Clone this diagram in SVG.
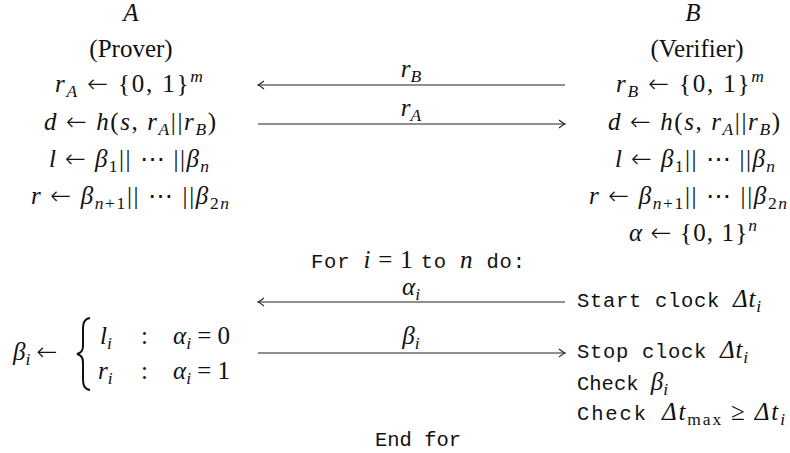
<svg xmlns="http://www.w3.org/2000/svg" width="790" height="453" viewBox="0 0 790 453">
<style>
.m{font-family:"Liberation Serif","DejaVu Serif",serif;font-size:25px;fill:#111}
.i{font-style:italic}
.s{font-size:17.5px}
.ar{font-family:"DejaVu Sans",sans-serif;font-style:normal;font-weight:200}
.tt{font-family:"Liberation Mono","DejaVu Sans Mono",monospace;font-size:20.5px;fill:#111}
.ln{stroke:#222;stroke-width:1.2;fill:none}
.br{stroke:#111;stroke-width:2;fill:none}
</style>
<defs>
<marker id="hd" markerUnits="userSpaceOnUse" markerWidth="12" markerHeight="12" viewBox="-8 -6 10 12" refX="0" refY="0" orient="auto">
<path d="M-6,-4 Q-2,-0.8 0,0 Q-2,0.8 -6,4" stroke="#222" stroke-width="1.1" fill="none"/>
</marker>
</defs>
<rect width="790" height="453" fill="#fff"/>

<g id="prover">
<text class="m i" x="131" y="21" text-anchor="middle">A</text>
<text class="m" x="131" y="57" text-anchor="middle">(Prover)</text>
<text class="m" x="129" y="92" text-anchor="middle" textLength="148" lengthAdjust="spacing"><tspan class="i">r</tspan><tspan class="s i" dy="5">A</tspan><tspan dy="-5"> <tspan class="ar">←</tspan> {0, 1}</tspan><tspan class="s i" dy="-10">m</tspan></text>
<text class="m" x="130" y="130" text-anchor="middle" textLength="172" lengthAdjust="spacing"><tspan class="i">d</tspan> <tspan class="ar">←</tspan> <tspan class="i">h</tspan>(<tspan class="i">s</tspan>, <tspan class="i">r</tspan><tspan class="s i" dy="5">A</tspan><tspan dy="-5">||</tspan><tspan class="i">r</tspan><tspan class="s i" dy="5">B</tspan><tspan dy="-5">)</tspan></text>
<text class="m" x="129" y="167" text-anchor="middle" textLength="160" lengthAdjust="spacing"><tspan class="i">l</tspan> <tspan class="ar">←</tspan> <tspan class="i">β</tspan><tspan class="s" dy="5">1</tspan><tspan dy="-5">|| ⋯ ||</tspan><tspan class="i">β</tspan><tspan class="s i" dy="5">n</tspan></text>
<text class="m" x="130" y="204" text-anchor="middle" textLength="198" lengthAdjust="spacing"><tspan class="i">r</tspan> <tspan class="ar">←</tspan> <tspan class="i">β</tspan><tspan class="s" dy="5"><tspan class="i">n</tspan>+1</tspan><tspan dy="-5">|| ⋯ ||</tspan><tspan class="i">β</tspan><tspan class="s" dy="5">2<tspan class="i">n</tspan></tspan></text>
</g>

<g id="verifier">
<text class="m i" x="693" y="21" text-anchor="middle">B</text>
<text class="m" x="697" y="57" text-anchor="middle">(Verifier)</text>
<text class="m" x="690" y="92" text-anchor="middle" textLength="148" lengthAdjust="spacing"><tspan class="i">r</tspan><tspan class="s i" dy="5">B</tspan><tspan dy="-5"> <tspan class="ar">←</tspan> {0, 1}</tspan><tspan class="s i" dy="-10">m</tspan></text>
<text class="m" x="694" y="130" text-anchor="middle" textLength="172" lengthAdjust="spacing"><tspan class="i">d</tspan> <tspan class="ar">←</tspan> <tspan class="i">h</tspan>(<tspan class="i">s</tspan>, <tspan class="i">r</tspan><tspan class="s i" dy="5">A</tspan><tspan dy="-5">||</tspan><tspan class="i">r</tspan><tspan class="s i" dy="5">B</tspan><tspan dy="-5">)</tspan></text>
<text class="m" x="695" y="167" text-anchor="middle" textLength="160" lengthAdjust="spacing"><tspan class="i">l</tspan> <tspan class="ar">←</tspan> <tspan class="i">β</tspan><tspan class="s" dy="5">1</tspan><tspan dy="-5">|| ⋯ ||</tspan><tspan class="i">β</tspan><tspan class="s i" dy="5">n</tspan></text>
<text class="m" x="688" y="204" text-anchor="middle" textLength="198" lengthAdjust="spacing"><tspan class="i">r</tspan> <tspan class="ar">←</tspan> <tspan class="i">β</tspan><tspan class="s" dy="5"><tspan class="i">n</tspan>+1</tspan><tspan dy="-5">|| ⋯ ||</tspan><tspan class="i">β</tspan><tspan class="s" dy="5">2<tspan class="i">n</tspan></tspan></text>
<text class="m" x="693" y="241" text-anchor="middle" textLength="128" lengthAdjust="spacing"><tspan class="i">α</tspan> <tspan class="ar">←</tspan> {0, 1}<tspan class="s i" dy="-10">n</tspan></text>
</g>

<g id="loop">
<text class="tt" x="418" y="268" text-anchor="middle" textLength="214" lengthAdjust="spacing">For <tspan class="m i">i</tspan><tspan class="m"> = 1 </tspan>to <tspan class="m i">n</tspan> do:</text>
<text class="tt" x="418" y="446" text-anchor="middle">End for</text>
</g>

<g id="prover-response">
<text class="m" x="13" y="360"><tspan class="i">β</tspan><tspan class="s i" dy="5">i</tspan><tspan dy="-5"> <tspan class="ar">←</tspan></tspan></text>
<path class="br" d="M90,318 C84,319 83,323 83,330 L83,346 C83,351 81,353 77,354 C81,355 83,357 83,362 L83,378 C83,385 84,389 90,390"/>
<text class="m" x="100" y="344"><tspan class="i">l</tspan><tspan class="s i" dy="5">i</tspan></text>
<text class="m" x="141" y="344">:</text>
<text class="m" x="173" y="344"><tspan class="i">α</tspan><tspan class="s i" dy="5">i</tspan><tspan dy="-5"> = 0</tspan></text>
<text class="m" x="98" y="379"><tspan class="i">r</tspan><tspan class="s i" dy="5">i</tspan></text>
<text class="m" x="141" y="379">:</text>
<text class="m" x="173" y="379"><tspan class="i">α</tspan><tspan class="s i" dy="5">i</tspan><tspan dy="-5"> = 1</tspan></text>
</g>

<g id="verifier-checks">
<text class="tt" x="577" y="307" textLength="184" lengthAdjust="spacing">Start clock <tspan class="m i">Δt</tspan><tspan class="m s i" dy="5">i</tspan></text>
<text class="tt" x="577" y="358" textLength="171" lengthAdjust="spacing">Stop clock <tspan class="m i">Δt</tspan><tspan class="m s i" dy="5">i</tspan></text>
<text class="tt" x="577" y="390">Check <tspan class="m i">β</tspan><tspan class="m s i" dy="5">i</tspan></text>
<text class="tt" x="577" y="420" textLength="208" lengthAdjust="spacing">Check <tspan class="m i">Δt</tspan><tspan class="m s" dy="5">max</tspan><tspan class="m" dy="-5"> ≥ </tspan><tspan class="m i">Δt</tspan><tspan class="m s i" dy="5">i</tspan></text>
</g>

<g id="connectors">
<line class="ln" x1="565" y1="85" x2="258" y2="85" marker-end="url(#hd)"/>
<line class="ln" x1="258" y1="124" x2="565" y2="124" marker-end="url(#hd)"/>
<line class="ln" x1="565" y1="302" x2="258" y2="302" marker-end="url(#hd)"/>
<line class="ln" x1="258" y1="353" x2="565" y2="353" marker-end="url(#hd)"/>
<text class="m" x="411" y="77" text-anchor="middle"><tspan class="i">r</tspan><tspan class="s i" dy="5">B</tspan></text>
<text class="m" x="411" y="116" text-anchor="middle"><tspan class="i">r</tspan><tspan class="s i" dy="5">A</tspan></text>
<text class="m" x="411" y="295" text-anchor="middle"><tspan class="i">α</tspan><tspan class="s i" dy="5">i</tspan></text>
<text class="m" x="411" y="344" text-anchor="middle"><tspan class="i">β</tspan><tspan class="s i" dy="5">i</tspan></text>
</g>
</svg>
